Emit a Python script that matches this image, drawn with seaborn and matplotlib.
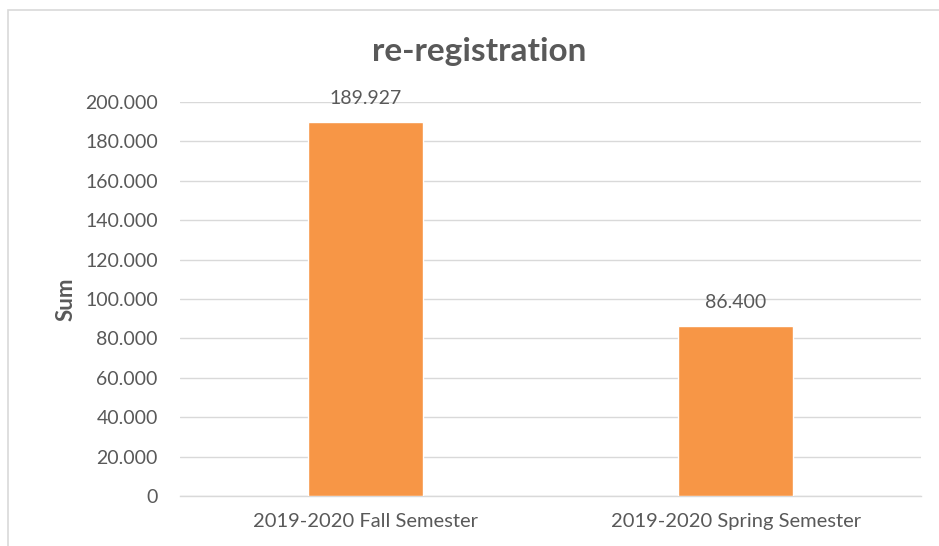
import matplotlib
matplotlib.use("Agg")
import matplotlib.pyplot as plt
import seaborn as sns
import pandas as pd
from matplotlib.patches import Rectangle
from matplotlib.ticker import FuncFormatter, MultipleLocator

categories = ["2019-2020 Fall Semester", "2019-2020 Spring Semester"]
values = [189927, 86400]
value_labels = ["189.927", "86.400"]
title = "re-registration"
ylabel = "Sum"

df = pd.DataFrame({"semester": categories, "sum": values})

sns.set_theme(style="white")
plt.rcParams["font.family"] = ["Lato", "DejaVu Sans"]

TXT = "#595959"
GRID = "#d9d9d9"
BAR = "#F79646"

fig = plt.figure(figsize=(9.39, 5.46), dpi=100)
ax = fig.add_axes([180/939, 50/546, (921-180)/939, (496-102)/546])

sns.barplot(data=df, x="semester", y="sum", color=BAR, width=0.31,
            saturation=1, ax=ax, zorder=3)

ax.set_xlim(-0.5, 1.5)
ax.set_ylim(0, 200000)
ax.yaxis.set_major_locator(MultipleLocator(20000))
ax.yaxis.set_major_formatter(FuncFormatter(lambda v, p: f"{v:,.0f}".replace(",", ".")))
ax.grid(axis="y", color=GRID, linewidth=1.0, zorder=0)
ax.set_axisbelow(True)
for s in ["top", "right", "left"]:
    ax.spines[s].set_visible(False)
ax.spines["bottom"].set_color(GRID)
ax.spines["bottom"].set_linewidth(1.0)
ax.tick_params(axis="y", length=0, pad=16, labelsize=14, labelcolor=TXT)
ax.tick_params(axis="x", length=0, pad=12, labelsize=14.5, labelcolor=TXT)
ax.set_xlabel("")
ax.set_ylabel(ylabel, fontsize=16, fontweight="bold", color=TXT, labelpad=6)

for i, (v, lab) in enumerate(zip(values, value_labels)):
    ax.annotate(lab, (i, v), xytext=(0, 17), textcoords="offset points",
                ha="center", va="center", fontsize=14, color=TXT)

fig.text(479/939, 1 - 51/546, title, ha="center", va="center",
         fontsize=24, fontweight="bold", color=TXT)

fig.patches.append(Rectangle((8/939, -0.05), 1.05, 1 - 10/546 + 0.05,
                             transform=fig.transFigure, fill=False,
                             edgecolor=GRID, linewidth=1.2))

fig.savefig("out.png", dpi=100)
